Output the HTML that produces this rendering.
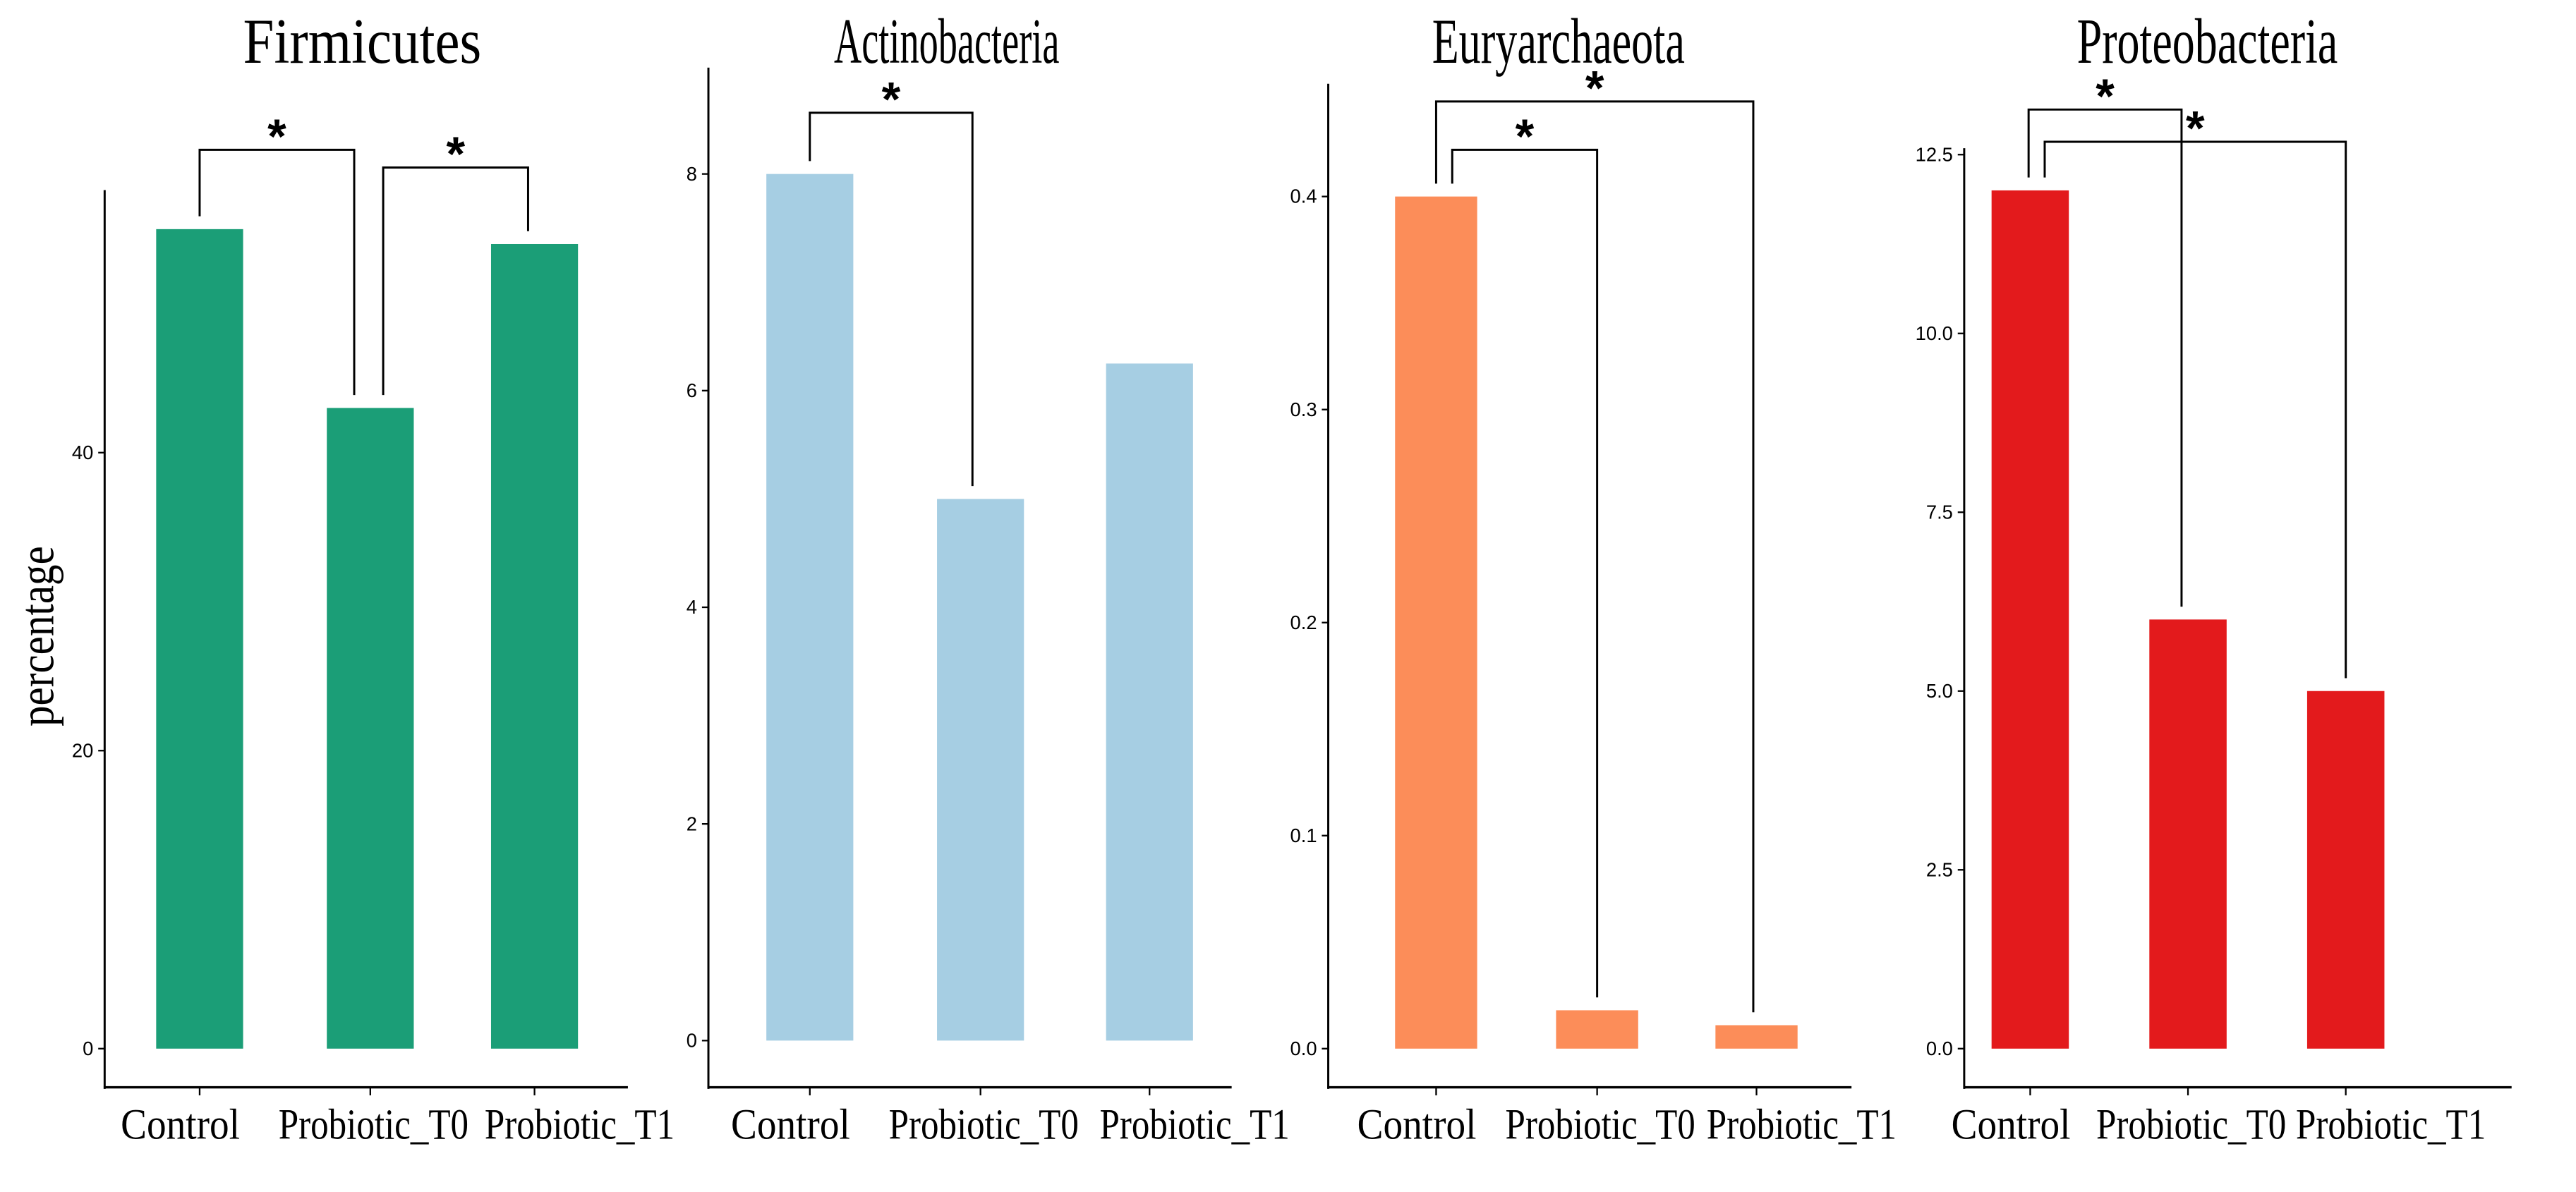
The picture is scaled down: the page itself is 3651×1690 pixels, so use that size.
<!DOCTYPE html>
<html><head><meta charset="utf-8"><style>
html,body{margin:0;padding:0;background:#fff;width:3651px;height:1690px;overflow:hidden}
svg{display:block}
.t{font-family:"Liberation Serif",serif}
.s{font-family:"Liberation Sans",sans-serif}
</style></head><body>
<svg id="c" width="3651" height="1690" viewBox="0 0 1600 740" preserveAspectRatio="none" xmlns="http://www.w3.org/2000/svg"></svg>
<script>
const categories = ["Control","Probiotic_T0","Probiotic_T1"];
const firmicutesValues = [55, 43, 54];
const actinoValues = [8, 5, 6.25];
const euryValues = [0.4, 0.018, 0.011];
const proteoValues = [12, 6, 5];
const firmicutesTicks = [0, 20, 40];
const actinoTicks = [0, 2, 4, 6, 8];
const euryTicks = [0, 0.1, 0.2, 0.3, 0.4];
const euryTickLabels = ["0.0","0.1","0.2","0.3","0.4"];
const proteoTicks = [0, 2.5, 5, 7.5, 10, 12.5];
const proteoTickLabels = ["0.0","2.5","5.0","7.5","10.0","12.5"];

const NS = "http://www.w3.org/2000/svg";
const svg = document.getElementById('c');
function mk(tag, attrs, parent){
  const e = document.createElementNS(NS, tag);
  for (const k in attrs) e.setAttribute(k, attrs[k]);
  (parent||svg).appendChild(e); return e;
}
const labelWidths = [74, 118, 118];
const labelShift = [-12, 2, 28];
const panels = [
  {name:"firmicutes", title:"Firmicutes", tw:148, tx:225, values:firmicutesValues, ticks:firmicutesTicks, labels:firmicutesTicks.map(String),
   color:"#1b9e77", ax:65, axTop:118, y0:651, refV:40, refY:281, centers:[124,230,332], bw:54, xEnd:390,
   brackets:[{a:0,b:1,dxA:0,dxB:-10,top:93,sy:85},{a:1,b:2,dxA:8,dxB:-4,top:104,sy:96}]},
  {name:"actinobacteria", title:"Actinobacteria", tw:140, tx:588, values:actinoValues, ticks:actinoTicks, labels:actinoTicks.map(String),
   color:"#a6cee3", ax:440, axTop:42, y0:646, refV:8, refY:108, centers:[503,609,714], bw:54, xEnd:765,
   brackets:[{a:0,b:1,dxA:0,dxB:-5,top:70,sy:62}]},
  {name:"euryarchaeota", title:"Euryarchaeota", tw:157, tx:968, values:euryValues, ticks:euryTicks, labels:euryTickLabels,
   color:"#fc8d59", ax:825, axTop:52, y0:651, refV:0.4, refY:122, centers:[892,992,1091], bw:51, xEnd:1150,
   brackets:[{a:0,b:2,dxA:0,dxB:-2,top:63,sy:55},{a:0,b:1,dxA:10,dxB:0,top:93,sy:85}]},
  {name:"proteobacteria", title:"Proteobacteria", tw:162, tx:1371, values:proteoValues, ticks:proteoTicks, labels:proteoTickLabels,
   color:"#e31a1c", ax:1220, axTop:92, y0:651, refV:12.5, refY:96, centers:[1261,1359,1457], bw:48, xEnd:1560,
   brackets:[{a:0,b:1,dxA:-1,dxB:-4,top:68,sy:60},{a:0,b:2,dxA:9,dxB:0,top:88,sy:80}]}
];
panels.forEach(p=>{
  const g = mk('g',{});
  
  
  const y = v => p.y0 - (v/p.refV)*(p.y0-p.refY);
  const t = mk('text',{x:p.tx,y:39,'text-anchor':'middle','font-size':40,class:'t',textLength:p.tw,lengthAdjust:'spacingAndGlyphs'},g);
  t.textContent = p.title;
  
  
  const ya = mk('line',{x1:p.ax,y1:p.axTop,x2:p.ax,y2:676,stroke:'#000','stroke-width':1.3},g);
  
  
  const xa = mk('line',{x1:p.ax-0.6,y1:675,x2:p.xEnd,y2:675,stroke:'#000','stroke-width':1.5},g);
  
  
  p.ticks.forEach((v,i)=>{
    const yy = y(v);
    mk('line',{x1:p.ax-4,y1:yy,x2:p.ax,y2:yy,stroke:'#000','stroke-width':1},g);
    const tl = mk('text',{x:p.ax-7,y:yy+4,'text-anchor':'end','font-size':12,class:'s'},g);
    tl.textContent = p.labels[i];
    
    
  });
  p.values.forEach((v,i)=>{
    const cx = p.centers[i];
    const r = mk('rect',{x:cx-p.bw/2,y:y(v),width:p.bw,height:p.y0-y(v),fill:p.color},g);
    
    
    mk('line',{x1:cx,y1:675,x2:cx,y2:680,stroke:'#000','stroke-width':1},g);
    const xl = mk('text',{x:cx+labelShift[i],y:707,'text-anchor':'middle','font-size':27,class:'t',textLength:labelWidths[i],lengthAdjust:'spacingAndGlyphs'},g);
    xl.textContent = categories[i];
    
    
  });
  p.brackets.forEach(b=>{
    const xa_ = p.centers[b.a]+b.dxA, xb = p.centers[b.b]+b.dxB;
    const ya_ = y(p.values[b.a])-8, yb = y(p.values[b.b])-8;
    const pl = mk('polyline',{points:`${xa_},${ya_} ${xa_},${b.top} ${xb},${b.top} ${xb},${yb}`,fill:'none',stroke:'#000','stroke-width':1.3},g);
    
    
    const st = mk('text',{x:(xa_+xb)/2,y:b.sy+10,'text-anchor':'middle','font-size':30,'font-weight':'bold',class:'s'},g);
    st.textContent = '*';
    
    
  });
});
const yt = mk('text',{x:0,y:0,'text-anchor':'middle','font-size':30,class:'t',transform:'translate(33,395) rotate(-90)',textLength:112,lengthAdjust:'spacingAndGlyphs'});
yt.textContent = 'percentage';


</script>
</body></html>
